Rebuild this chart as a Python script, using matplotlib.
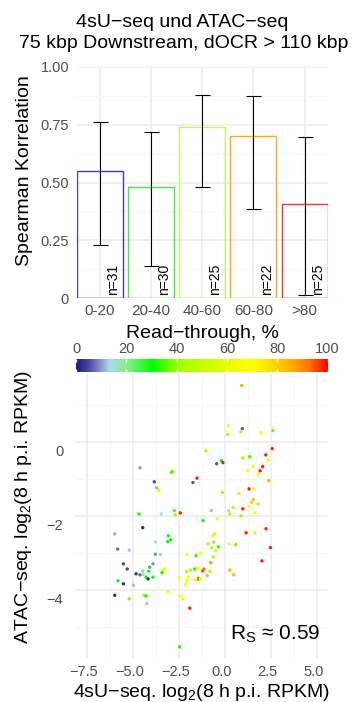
import numpy as np
import matplotlib
matplotlib.use('Agg')
import matplotlib.pyplot as plt
from matplotlib.colors import LinearSegmentedColormap
from matplotlib.transforms import ScaledTranslation

plt.rcParams['font.family'] = ['Liberation Sans', 'DejaVu Sans']
plt.rcParams['mathtext.fontset'] = 'custom'
plt.rcParams['mathtext.rm'] = 'Liberation Sans'
plt.rcParams['mathtext.it'] = 'Liberation Sans:italic'

# Korrelation je Read-through-Klasse
categories = ['0-20', '20-40', '40-60', '60-80', '>80']
rho = [0.55, 0.48, 0.742, 0.703, 0.406]
ci_low = [0.228, 0.14, 0.482, 0.386, 0.014]
ci_high = [0.761, 0.719, 0.88, 0.875, 0.697]
n_genes = [31, 30, 25, 22, 25]
bar_colors = ['#3535ff', '#45e845', '#b8ff55', '#ffa522', '#ee3535']

# Gene: 4sU-seq vs. ATAC-seq, Farbe = Read-through in %
su_log2 = [0.89, 0.16, 0.92, 0.13, 0.84, 1.94, 2.59, 2.55, -1.05, 2.20,
           0.95, 1.33, 2.32, -0.22, -0.13, -0.47, -4.64, 2.03, 1.51, 1.20,
           1.89, -2.93, -2.87, 1.78, -1.54, 2.36, -3.86, -1.76, -3.73, -3.62,
           1.29, 1.56, -0.16, 0.74, 1.52, 1.43, 1.78, 0.42, 1.29, 0.95,
           -2.77, -0.76, 0.18, -4.69, -3.48, -2.73, -2.45, 0.24, 1.60, 0.85,
           -0.43, -1.21, -4.49, 2.21, 1.13, 1.60, -6.01, -0.58, -0.67, -3.10,
           -2.97, 2.45, -5.85, -5.22, -3.80, -3.13, -0.94, -0.63, -0.38, -0.74,
           -0.54, 0.22, 0.57, 1.99, -1.34, -2.08, -1.59, -0.65, -3.80, -3.53,
           -0.79, -5.54, -3.93, -4.11, -5.33, -4.49, -4.16, -3.32, -3.40, -3.44,
           -4.85, -4.64, -4.46, -2.10, -1.90, -1.66, -1.48, -1.23, -1.16, -0.85,
           0.24, 0.46, -0.99, -2.52, -2.01, -1.47, -1.45, -1.63, -1.36, -2.10,
           -2.17, -4.31, -4.20, -3.93, -5.83, -5.54, -5.00, -6.01, -5.22, -4.43,
           -4.31, -4.27, -3.11, -2.41, -2.30, -1.93, -2.48, -3.88]
atac_log2 = [1.53, 0.44, 0.36, 0.20, 0.27, 0.25, 0.31, -0.18, -0.24, -0.35,
             -0.43, -0.40, -0.49, -0.51, -0.56, -0.59, -0.70, -0.67, -0.67, -0.78,
             -0.78, -0.82, -0.80, -0.89, -0.98, -1.05, -1.08, -1.10, -1.24, -1.32,
             -1.27, -1.27, -1.37, -1.40, -1.56, -1.64, -1.68, -1.78, -1.75, -1.81,
             -1.86, -1.86, -1.86, -1.95, -1.95, -1.97, -1.92, -1.95, -1.92, -2.00,
             -2.08, -2.13, -2.32, -2.35, -2.46, -2.46, -2.49, -2.49, -2.54, -2.54,
             -2.65, -2.86, -2.90, -2.93, -2.71, -2.70, -2.76, -2.71, -2.84, -2.87,
             -2.95, -2.76, -2.78, -3.22, -3.00, -3.04, -3.08, -3.11, -3.04, -3.05,
             -3.27, -3.30, -3.30, -3.39, -3.44, -3.50, -3.50, -3.44, -3.47, -3.54,
             -3.57, -3.60, -3.59, -3.51, -3.47, -3.44, -3.41, -3.49, -3.44, -3.50,
             -3.47, -3.60, -3.62, -3.68, -3.66, -3.68, -3.71, -3.74, -3.71, -3.76,
             -3.86, -3.66, -3.71, -3.66, -3.76, -3.84, -3.88, -4.15, -4.25, -4.15,
             -4.17, -4.38, -4.06, -4.17, -4.25, -4.50, -5.55, -5.91]
readthrough = [85, 68, 6, 45, 45, 68, 38, 98, 45, 98,
               45, 33, 68, 30, 98, 6, 10, 98, 68, 68,
               98, 35, 35, 72, 98, 85, 5, 6, 25, 68,
               98, 62, 42, 76, 82, 80, 78, 45, 68, 98,
               25, 22, 14, 30, 14, 42, 98, 45, 68, 42,
               66, 30, 2, 98, 98, 74, 11, 55, 66, 30,
               30, 98, 7, 12, 13, 30, 42, 42, 33, 45,
               58, 66, 36, 98, 66, 66, 32, 45, 9, 20,
               88, 5, 9, 9, 5, 20, 30, 64, 66, 30,
               3, 7, 17, 45, 45, 32, 66, 95, 92, 45,
               84, 84, 22, 66, 66, 45, 96, 68, 66, 66,
               66, 30, 2, 30, 30, 2, 12, 2, 38, 45,
               30, 12, 66, 66, 66, 98, 30, 45]
rs_value = 0.59

rt_cmap = LinearSegmentedColormap.from_list('readthrough', [
    (0.00, '#1b1b7e'), (0.05, '#4b4ba0'), (0.10, '#8b9fd0'), (0.13, '#add8e6'),
    (0.20, '#88ee88'), (0.30, '#00ff00'), (0.40, '#99ff00'), (0.50, '#c4ff00'),
    (0.60, '#e6ff00'), (0.70, '#ffff00'), (0.80, '#ffd000'), (0.87, '#ffa500'),
    (0.93, '#ff7000'), (1.00, '#ff0000')])

grid_major = '#EBEBEB'
grid_minor = '#F5F5F5'
tick_grey = '#4D4D4D'
W, H = 356, 702

fig = plt.figure(figsize=(W / 100, H / 100), dpi=100)

def px(x, y):
    return x / W, 1 - y / H

# --- Balken ---
ax1 = fig.add_axes([76.7 / W, 1 - 298 / H, 251 / W, 231 / H])
pos = np.arange(1, len(categories) + 1)
rho_a = np.array(rho)
ax1.bar(pos, rho_a, width=0.9, fill=False, edgecolor=bar_colors, linewidth=1.0, zorder=2)
ax1.errorbar(pos, rho_a, yerr=[rho_a - np.array(ci_low), np.array(ci_high) - rho_a],
             fmt='none', ecolor='black', elinewidth=0.8, capsize=5.4, capthick=0.8, zorder=3)
for p, n in zip(pos, n_genes):
    ax1.text(p + 0.26, 0.012, f'n={n}', rotation=90, ha='center', va='bottom', fontsize=10)
ax1.set_xlim(0.55, 5.45)
ax1.set_ylim(0, 1)
ax1.set_xticks(pos)
ax1.set_xticklabels(categories)
ax1.set_yticks([0, 0.25, 0.5, 0.75, 1.0])
ax1.set_yticklabels(['0', '0.25', '0.50', '0.75', '1.00'])
ax1.set_yticks([0.125, 0.375, 0.625, 0.875], minor=True)
ax1.grid(which='major', color=grid_major, linewidth=1.1)
ax1.grid(which='minor', axis='y', color=grid_minor, linewidth=0.6)
ax1.set_axisbelow(True)
ax1.tick_params(which='both', length=0, labelcolor=tick_grey)
ax1.tick_params(axis='x', labelsize=11, pad=4)
ax1.tick_params(axis='y', labelsize=10.5, pad=5.5)
for s in ax1.spines.values():
    s.set_visible(False)

# --- Streudiagramm ---
ax2 = fig.add_axes([75 / W, 1 - 658 / H, 253 / W, 284 / H])
sc = ax2.scatter(su_log2, atac_log2, c=readthrough, cmap=rt_cmap, vmin=0, vmax=100,
                 s=6, linewidths=0, zorder=2)
ax2.set_xlim(-8.17, 5.58)
ax2.set_ylim(-5.85, 1.84)
ax2.set_xticks([-7.5, -5, -2.5, 0, 2.5, 5])
ax2.set_xticklabels(['\u22127.5', '\u22125.0', '\u22122.5', '0.0', '2.5', '5.0'])
ax2.set_xticks([-6.25, -3.75, -1.25, 1.25, 3.75], minor=True)
ax2.set_yticks([-4, -2, 0])
ax2.set_yticklabels(['\u22124', '\u22122', '0'])
ax2.set_yticks([-5, -3, -1, 1], minor=True)
ax2.grid(which='major', color=grid_major, linewidth=1.1)
ax2.grid(which='minor', color=grid_minor, linewidth=0.6)
ax2.set_axisbelow(True)
ax2.tick_params(which='both', length=0, labelcolor=tick_grey, labelsize=10.5)
ax2.tick_params(axis='x', pad=5)
ax2.tick_params(axis='y', pad=8.5)
for s in ax2.spines.values():
    s.set_visible(False)
for lbl in ax2.get_yticklabels():
    lbl.set_transform(lbl.get_transform() + ScaledTranslation(0, -0.085, fig.dpi_scale_trans))
for lbl in ax2.get_xticklabels():
    lbl.set_transform(lbl.get_transform() + ScaledTranslation(-0.035, 0, fig.dpi_scale_trans))
ax2.text(0.968, 0.066, r'$\mathregular{R_S}$' + ' \u2248 ' + f'{rs_value:.2f}',
         transform=ax2.transAxes, ha='right', va='baseline', fontsize=15)

# --- Farbleiste ---
cax = fig.add_axes([76.1 / W, 1 - 372 / H, 251.5 / W, 13 / H])
cb = fig.colorbar(sc, cax=cax, orientation='horizontal', ticks=[0, 20, 40, 60, 80, 100])
cb.outline.set_visible(False)
cb.minorticks_off()
cax.tick_params(axis='x', direction='in', length=2.5, width=1, color='white',
                top=True, bottom=True, labeltop=True, labelbottom=False,
                labelcolor=tick_grey, labelsize=10.5, pad=2)

# --- Beschriftungen ---
fig.text(*px(182.5, 26.7), '4sU\u2212seq und ATAC\u2212seq', ha='center', va='baseline', fontsize=14)
fig.text(*px(183.5, 47.7), '75 kbp Downstream, dOCR > 110 kbp', ha='center', va='baseline', fontsize=14)
fig.text(*px(24.5, 170.5), 'Spearman Korrelation', rotation=90, ha='center', va='center', fontsize=14)
fig.text(*px(202.5, 338), 'Read\u2212through, %', ha='center', va='baseline', fontsize=14)
fig.text(*px(24, 507), 'ATAC\u2212seq. ' + r'$\mathregular{log_2}$(8 h p.i. RPKM)',
         rotation=90, ha='center', va='center', fontsize=14)
fig.text(*px(201.5, 697), '4sU\u2212seq. ' + r'$\mathregular{log_2}$(8 h p.i. RPKM)',
         ha='center', va='baseline', fontsize=14)

fig.savefig('out.png', dpi=100)
